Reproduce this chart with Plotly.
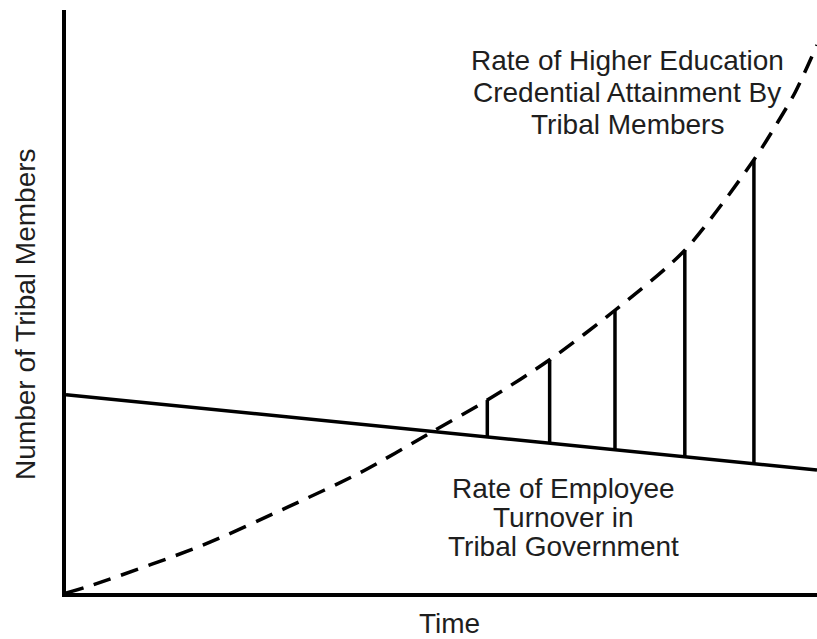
import numpy as np
import plotly.graph_objects as go

# Dashed curve: rate of higher education credential attainment (time, members)
edu_time = [0.0, 0.36, 1.82, 2.98, 3.91, 4.87, 5.61, 6.44, 7.31, 8.24, 9.16, 9.47, 9.71, 10.0]
edu_vals = [0.0, 0.14, 0.82, 1.49, 2.06, 2.76, 3.31, 4.00, 4.85, 5.88, 7.43, 8.06, 8.59, 9.40]

# Solid line: rate of employee turnover
turn_time = [0.0, 10.0]
turn_vals = [3.40, 2.11]

# Gap markers (vertical connectors) at these times
gap_time = [5.61, 6.44, 7.31, 8.24, 9.16]

top_lines = ["Rate of Higher Education", "Credential Attainment By", "Tribal Members"]
top_line_y = [9.14, 8.58, 8.03]
top_x = 7.47
bottom_lines = ["Rate of Employee", "Turnover in", "Tribal Government"]
bottom_line_y = [1.80, 1.30, 0.79]
bottom_x = 6.63
x_title = "Time"
y_title = "Number of Tribal Members"

FONT = "Liberation Sans, Arial, Helvetica, sans-serif"
TXT = "#1e1e1e"

fig = go.Figure()

fig.add_trace(go.Scatter(
    x=turn_time, y=turn_vals, mode="lines",
    line=dict(color="black", width=3.5), hoverinfo="skip", showlegend=False))

fig.add_trace(go.Scatter(
    x=edu_time, y=edu_vals, mode="lines",
    line=dict(color="black", width=3.5, dash="18px,11px", shape="spline", smoothing=0.8),
    hoverinfo="skip", showlegend=False))

gx, gy = [], []
for t in gap_time:
    top = float(np.interp(t, edu_time, edu_vals))
    bot = float(np.interp(t, turn_time, turn_vals))
    gx += [t, t, None]
    gy += [bot, top, None]
fig.add_trace(go.Scatter(
    x=gx, y=gy, mode="lines",
    line=dict(color="black", width=3.5), hoverinfo="skip", showlegend=False))

for txt, yy in zip(top_lines, top_line_y):
    fig.add_annotation(x=top_x, y=yy, xref="x", yref="y", text=txt,
                       showarrow=False, xanchor="center", yanchor="middle",
                       font=dict(family=FONT, size=28, color=TXT))
for txt, yy in zip(bottom_lines, bottom_line_y):
    fig.add_annotation(x=bottom_x, y=yy, xref="x", yref="y", text=txt,
                       showarrow=False, xanchor="center", yanchor="middle",
                       font=dict(family=FONT, size=28, color=TXT))

fig.add_annotation(x=0.511, y=-0.053, xref="paper", yref="paper", text=x_title,
                   showarrow=False, xanchor="center", yanchor="middle",
                   font=dict(family=FONT, size=28, color=TXT))
fig.add_annotation(x=0, y=0.477, xref="paper", yref="paper", text=y_title,
                   showarrow=False, xanchor="center", yanchor="middle", xshift=-40,
                   textangle=-90, font=dict(family=FONT, size=28, color=TXT))

axis_common = dict(showline=True, linewidth=4, linecolor="black", showgrid=False,
                   zeroline=False, showticklabels=False, ticks="", range=[0, 10])
fig.update_xaxes(**axis_common)
fig.update_yaxes(**axis_common)

fig.update_layout(
    width=817, height=639,
    margin=dict(l=66, r=0, t=10, b=46),
    paper_bgcolor="white", plot_bgcolor="white",
    showlegend=False,
)

fig.write_html("out.html", config={"displayModeBar": False},
               post_script="document.body.style.margin='0px';document.body.style.overflow='hidden';")
